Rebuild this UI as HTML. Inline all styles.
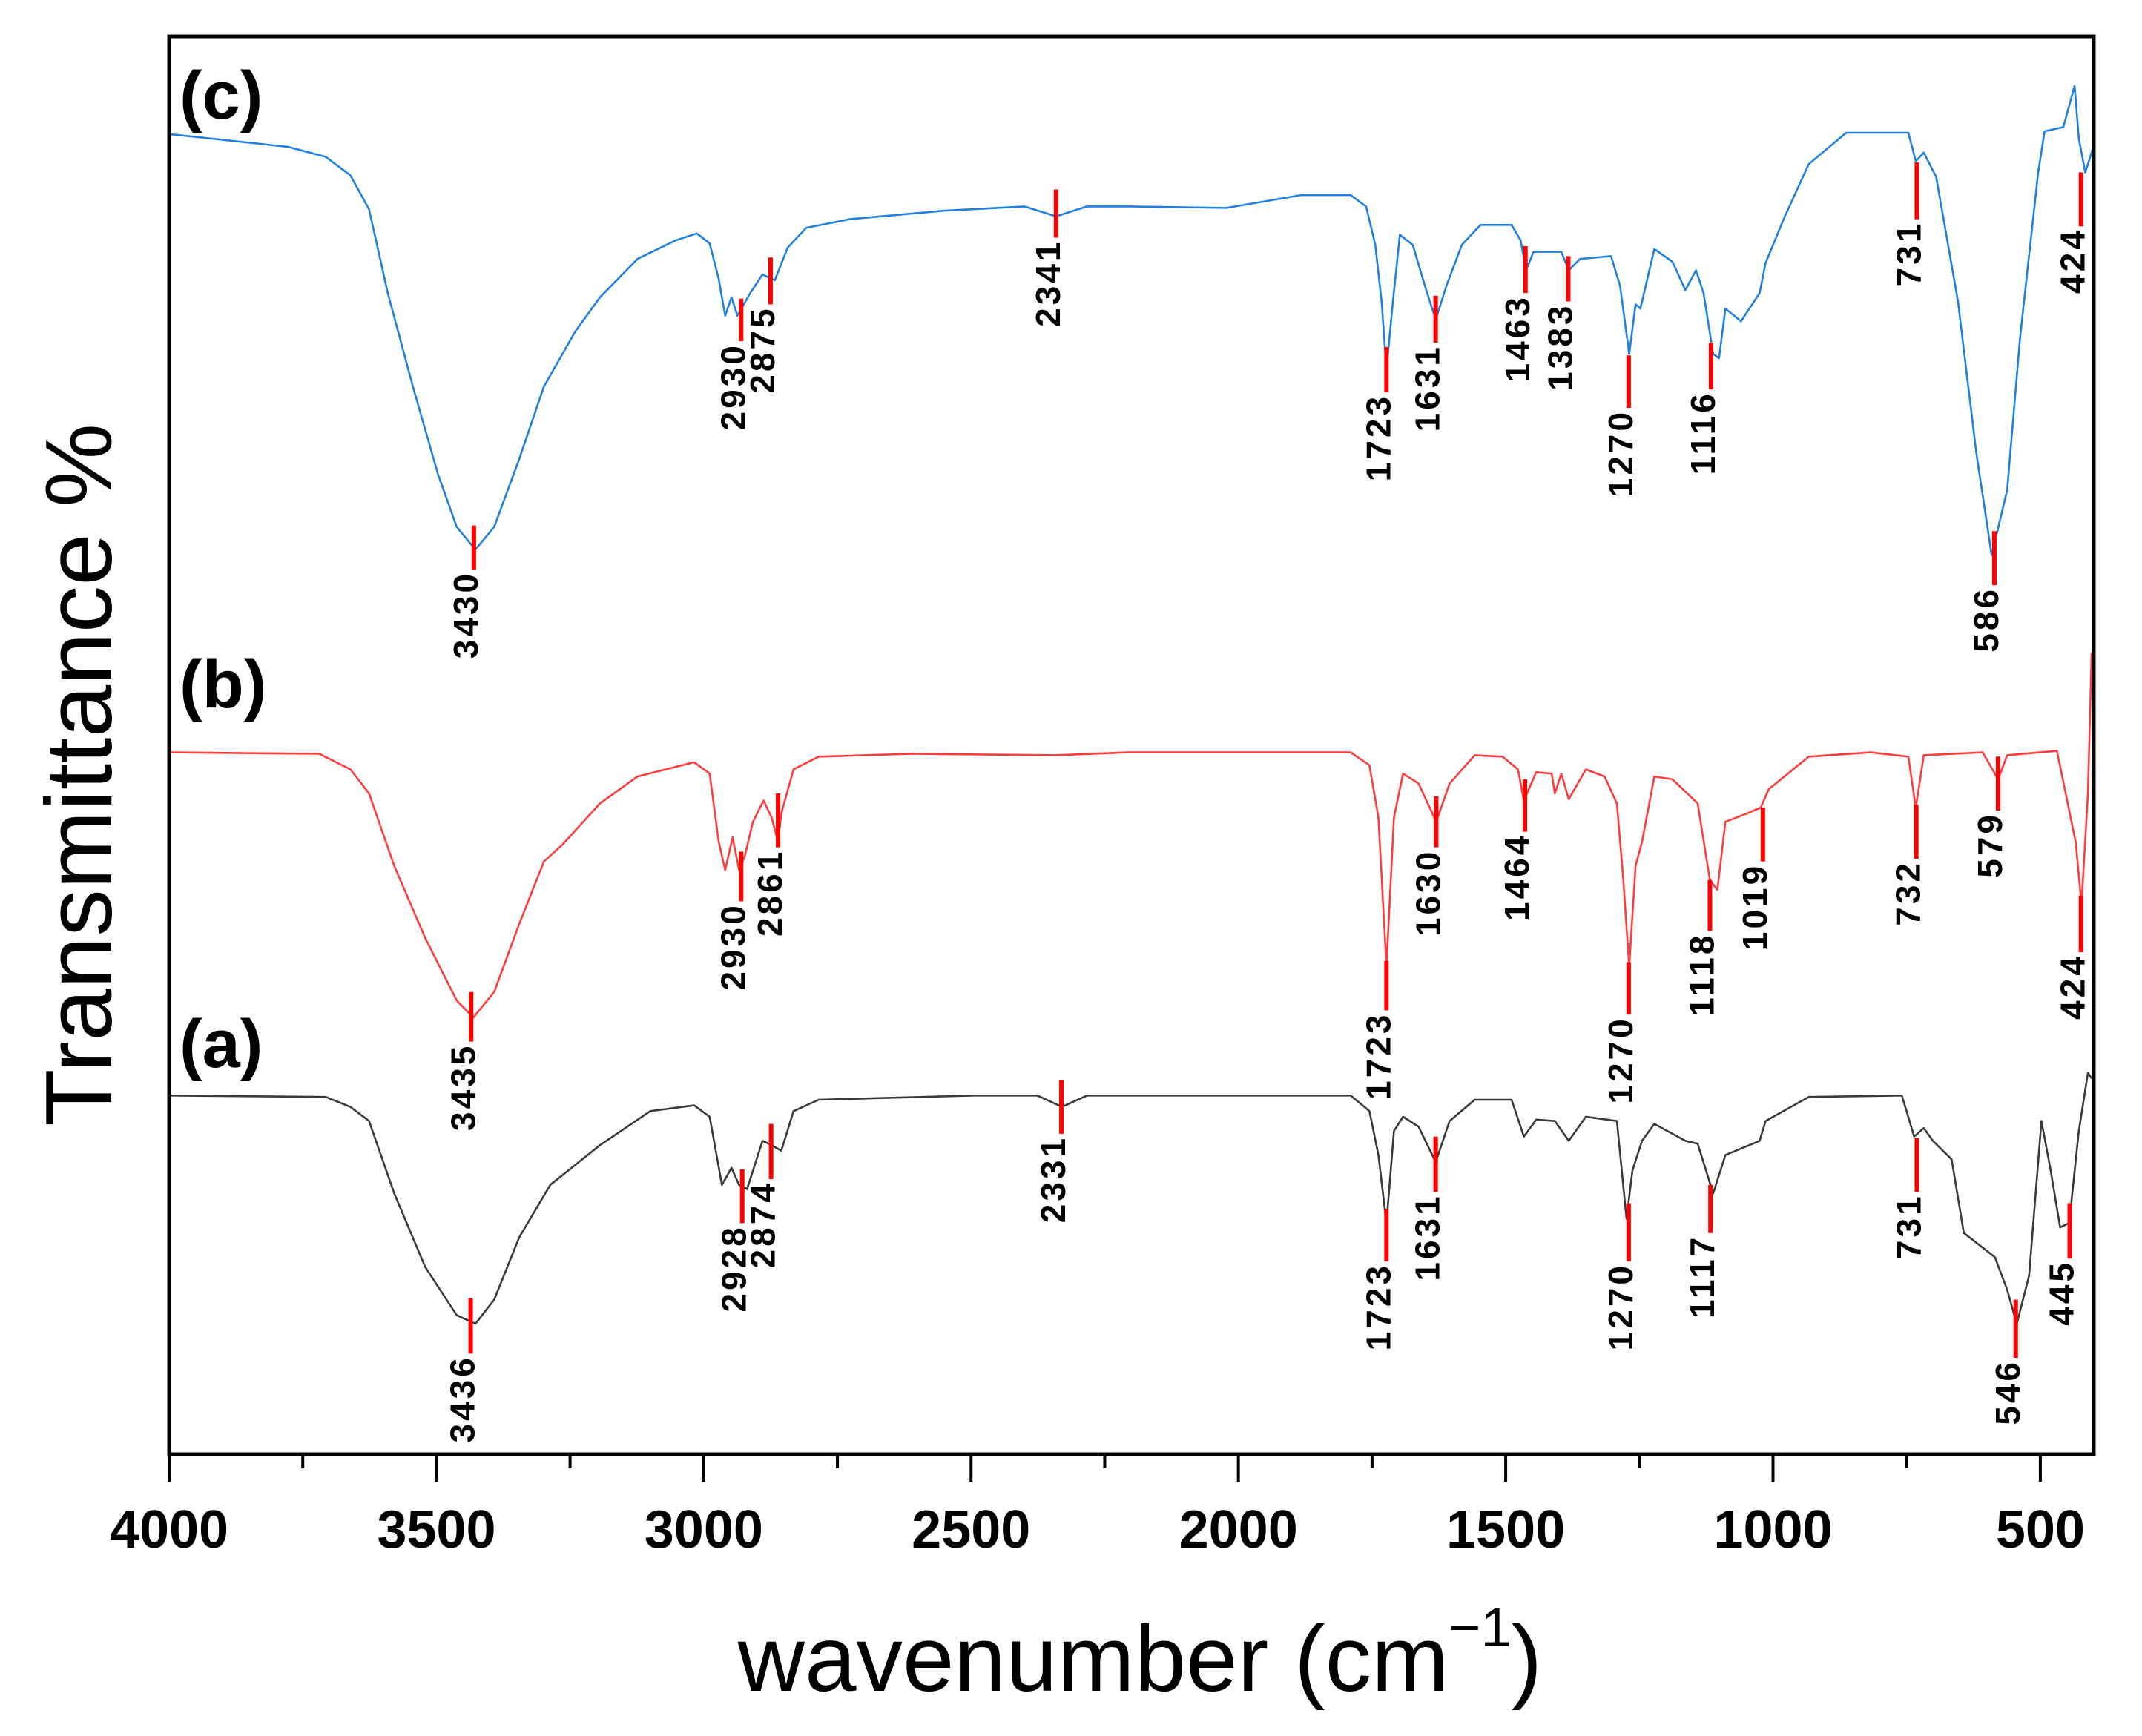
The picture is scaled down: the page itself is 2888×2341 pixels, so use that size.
<!DOCTYPE html>
<html><head><meta charset="utf-8"><style>
html,body{margin:0;padding:0;background:#fff;}
svg{display:block;font-family:"Liberation Sans",Arial,sans-serif;}
</style></head><body>
<svg id="chart" width="2888" height="2341" viewBox="0 0 2888 2341" xmlns="http://www.w3.org/2000/svg">
<rect x="0" y="0" width="2888" height="2341" fill="#fff"/>
<g id="series"></g>
<g id="markers"></g>
<g id="axes"></g>
<text x="242" y="160" font-size="92" font-weight="bold">(c)</text>
<text x="242" y="954" font-size="92" font-weight="bold">(b)</text>
<text x="242" y="1439" font-size="92" font-weight="bold">(a)</text>
<text x="1537" y="2280" font-size="125" text-anchor="middle">wavenumber (cm<tspan font-size="74" dy="-60">−1</tspan><tspan dy="60">)</tspan></text>
<text transform="translate(150,1045) rotate(-90)" font-size="127" text-anchor="middle">Transmittance %</text>
</svg>
<script>
const xTicks = [4000,3500,3000,2500,2000,1500,1000,500];
const xMinorTicks = [3750,3250,2750,2250,1750,1250,750];

const wnC = [3999,3777,3707,3661,3626,3591,3544,3497,3462,3427,3392,3345,3299,3240,3194,3124,3053,3013,2989,2972,2960,2948,2937,2913,2890,2867,2843,2808,2727,2551,2400,2341,2283,2207,2022,1883,1790,1761,1744,1732,1723,1711,1698,1674,1651,1631,1611,1582,1547,1489,1472,1462,1448,1396,1382,1361,1303,1286,1269,1257,1248,1222,1188,1164,1144,1130,1112,1101,1089,1060,1025,1014,979,933,863,747,733,718,695,654,620,591,562,538,504,492,457,436,428,416,400];
const tC = [93.1,92.2,91.5,90.2,87.8,81.9,75.3,69.1,65.4,63.8,65.4,70.2,75.3,79.2,81.6,84.3,85.6,86.1,85.4,82.9,80.3,81.6,80.3,81.9,83.2,82.8,85.1,86.5,87.1,87.7,88.0,87.3,88.0,88.0,87.9,88.8,88.8,88.0,85.3,81.3,76.5,81.3,86.0,85.3,82.4,80.0,82.4,85.3,86.7,86.7,85.6,83.5,84.8,84.8,83.5,84.3,84.5,82.4,77.6,81.1,80.8,85.0,84.1,82.1,83.5,81.9,77.6,77.3,80.8,79.9,81.9,84.0,87.2,91.0,93.2,93.2,91.2,91.8,90.1,81.3,70.7,63.4,68.0,78.7,90.4,93.3,93.6,96.5,92.8,90.4,92.3];

const wnB = [3999,3719,3661,3626,3579,3521,3462,3431,3392,3345,3299,3264,3194,3124,3018,2989,2972,2960,2946,2934,2923,2908,2888,2873,2861,2855,2832,2785,2610,2341,2207,1790,1755,1738,1723,1709,1692,1663,1630,1605,1558,1506,1477,1466,1443,1414,1408,1396,1382,1350,1315,1292,1280,1269,1257,1245,1222,1188,1141,1118,1104,1089,1048,1023,1008,933,817,747,733,718,608,579,562,469,434,423,411,404,400];
const tB = [49.5,49.4,48.3,46.6,41.5,36.4,32.0,30.8,32.6,37.4,41.8,43.0,45.9,47.8,48.8,48.0,43.2,41.2,43.5,41.2,42.2,44.6,46.1,44.9,43.2,45.2,48.3,49.2,49.4,49.3,49.5,49.5,48.6,44.9,34.4,44.9,48.0,47.3,44.6,47.3,49.3,49.2,48.3,46.1,48.1,48.0,46.6,48.0,46.2,48.3,47.8,45.9,40.5,34.4,41.5,43.2,47.8,47.6,45.9,40.5,39.8,44.6,45.2,45.6,46.9,49.2,49.5,49.2,45.6,49.3,49.5,47.6,49.3,49.6,43.2,38.8,46.6,56.5,56.5];

const wnA = [3999,3707,3661,3626,3579,3521,3462,3427,3392,3345,3287,3194,3100,3018,2989,2966,2948,2934,2919,2890,2873,2855,2832,2785,2493,2376,2330,2283,2207,1790,1755,1738,1723,1709,1692,1663,1631,1605,1558,1489,1466,1443,1408,1382,1350,1292,1274,1263,1245,1222,1164,1141,1112,1089,1025,1014,933,759,736,718,701,666,643,585,562,544,521,498,481,463,446,428,411,404];
const tA = [25.3,25.2,24.5,23.5,18.4,13.2,9.8,9.2,10.9,15.3,19.0,21.8,24.2,24.6,23.8,19.0,20.2,19.0,18.7,22.1,21.8,21.4,24.2,25.0,25.3,25.3,24.5,25.3,25.3,25.3,24.2,21.1,16.3,22.8,23.8,23.1,20.6,23.5,25.0,25.0,22.4,23.6,23.5,22.1,23.8,23.5,16.6,20.0,22.1,23.3,22.1,21.9,18.4,21.1,22.1,23.5,25.2,25.3,22.4,23.0,22.1,20.8,15.6,13.9,11.6,9.2,12.6,23.5,20.1,16.0,16.3,22.8,26.9,26.5];

const markWnC = [3430,2930,2875,2341,1723,1631,1463,1383,1270,1116,731,586,424];
const markTopC = [65.5,81.5,84.4,89.2,78.1,81.7,85.2,84.5,77.5,78.4,91.1,65.1,90.4];
const markBotC = [62.4,78.5,81.1,85.8,74.9,78.4,81.9,81.3,73.8,75.1,87.1,61.3,86.6];
const markWnB = [3435,2930,2861,1723,1630,1464,1270,1118,1019,732,579,424];
const markTopB = [32.6,42.5,46.6,34.8,46.4,47.6,34.7,40.5,45.6,45.8,49.2,39.4];
const markBotB = [29.1,39.0,42.8,31.3,42.8,43.9,31.0,36.9,41.8,42.0,45.4,35.4];
const markWnA = [3436,2928,2874,2331,1723,1631,1270,1117,731,546,445];
const markTopA = [11.0,20.1,23.3,26.4,17.3,22.4,17.7,19.0,22.3,10.9,17.7];
const markBotA = [7.1,16.3,19.4,22.6,13.6,18.5,13.6,15.6,18.5,6.8,13.8];

const X0=228, X1=2823, Y0=1961, Y1=49;
const WN_MAX=4000, WN_MIN=400;
function xs(w){ return X0 + (WN_MAX - w) * (X1 - X0) / (WN_MAX - WN_MIN); }
function ys(t){ return Y0 - t * (Y0 - Y1) / 100; }
const NS='http://www.w3.org/2000/svg';
function mk(tag, attrs, parent){ const e=document.createElementNS(NS,tag); for(const k in attrs) e.setAttribute(k,attrs[k]); parent.appendChild(e); return e; }

const series = document.getElementById('series');
function drawSeries(wn, t, color, name){
  let d='';
  for(let i=0;i<wn.length;i++){ d += (i?'L':'M') + xs(wn[i]).toFixed(1) + ',' + ys(t[i]).toFixed(1); }
  const p = mk('path',{d:d,fill:'none',stroke:color,'stroke-width':2.6,'stroke-linejoin':'round'},series);
  
  
}
drawSeries(wnC,tC,'#1f80e0','spectrum-c');
drawSeries(wnB,tB,'#ff3c3c','spectrum-b');
drawSeries(wnA,tA,'#3a3a3a','spectrum-a');

const markers = document.getElementById('markers');
function drawMarkers(wn, top, bot, prefix){
  for(let i=0;i<wn.length;i++){
    const x = xs(wn[i]);
    const l = mk('line',{x1:x,x2:x,y1:ys(top[i]),y2:ys(bot[i]),stroke:'#ff0000','stroke-width':6},markers);
    
    
    const tx = x + 5, ty = ys(bot[i]) + 2;
    const t = mk('text',{transform:'translate('+tx.toFixed(1)+','+ty.toFixed(1)+') rotate(-90)','font-size':46,'font-weight':'bold','letter-spacing':4,'text-anchor':'end',fill:'#000'},markers);
    t.textContent = wn[i];
    
    
  }
}
drawMarkers(markWnC,markTopC,markBotC,'c');
drawMarkers(markWnB,markTopB,markBotB,'b');
drawMarkers(markWnA,markTopA,markBotA,'a');

const axes = document.getElementById('axes');
const frame = mk('rect',{x:X0,y:Y1,width:X1-X0,height:Y0-Y1,fill:'none',stroke:'#000','stroke-width':5},axes);


xTicks.forEach(v=>{
  const x=xs(v);
  const tk = mk('line',{x1:x,x2:x,y1:Y0,y2:Y0+37,stroke:'#000','stroke-width':4},axes);
  
  
  const lb = mk('text',{x:x,y:2087,'font-size':72,'font-weight':'bold','text-anchor':'middle',fill:'#000'},axes);
  lb.textContent = v;
  
  
});
xMinorTicks.forEach(v=>{
  const x=xs(v);
  const tk = mk('line',{x1:x,x2:x,y1:Y0,y2:Y0+19,stroke:'#000','stroke-width':4},axes);
  
  
});
</script>
</body></html>
